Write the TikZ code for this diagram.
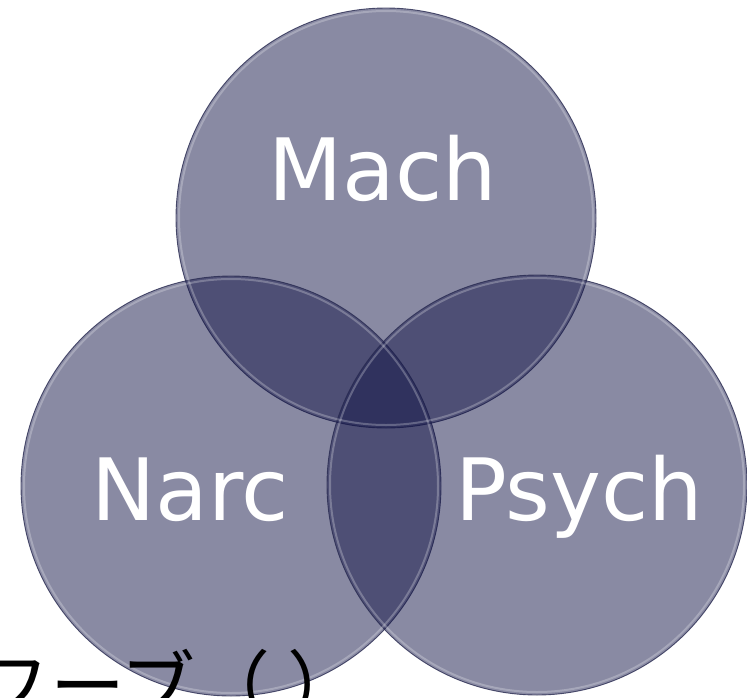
\documentclass[tikz,border=0pt]{standalone}
\usepackage{fontspec}
\newfontfamily\vfont{DejaVu Sans}
\newfontfamily\jpfont{Noto Sans CJK JP}
\definecolor{vennfill}{RGB}{20,22,72}
\definecolor{vennedge}{RGB}{40,42,80}
\begin{document}
\begin{tikzpicture}[x=1pt,y=-1pt,
  venn/.style={circle,minimum size=420pt,inner sep=0pt,fill=vennfill,fill opacity=0.5,draw=vennedge,draw opacity=0.8,line width=0.9pt},
  rim/.style={circle,minimum size=414pt,inner sep=0pt,draw=white,draw opacity=0.25,line width=2pt},
  lbl/.style={text=white,font=\vfont\fontsize{86}{90}\selectfont,anchor=base,inner sep=0pt},
  jp/.style={text=black,font=\jpfont\fontsize{75}{78}\selectfont,anchor=base west,inner sep=0pt}]
\useasboundingbox (0,0) rectangle (747,697);
\fill[white] (0,0) rectangle (747,697);
\node[venn] (mach) at (386,218) {};
\node[venn] (narc) at (231,486) {};
\node[venn] (psych) at (537,485) {};
\node[rim] (machrim) at (386,218) {};
\node[rim] (narcrim) at (231,486) {};
\node[rim] (psychrim) at (537,485) {};
\node[lbl] (machtxt) at (383,200) {Mach};
\node[lbl] (narctxt) at (190,520) {Narc};
\node[lbl] (psychtxt) at (579,520) {Psych};
\node[jp] (bottom) at (-25,713) {フーブ（ ）};
\end{tikzpicture}
\end{document}
